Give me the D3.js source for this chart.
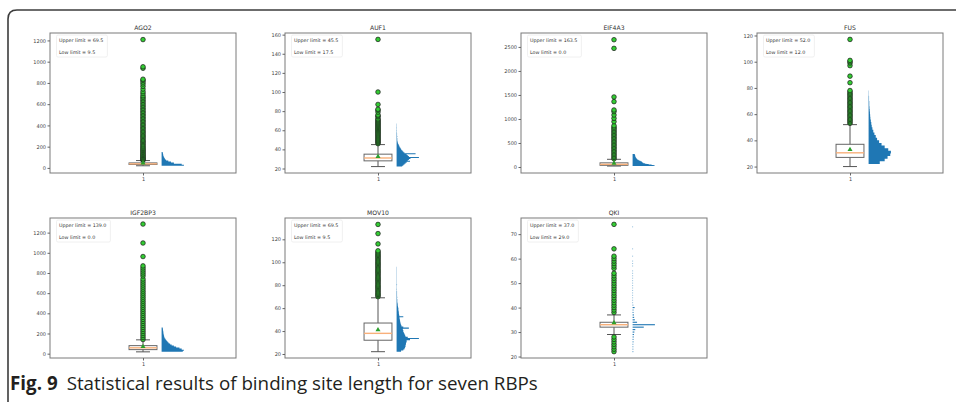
<!DOCTYPE html>
<html>
<head>
<meta charset="utf-8">
<script src="https://cdnjs.cloudflare.com/ajax/libs/d3/7.8.5/d3.min.js"></script>
<style>
body { margin: 0; background: #fff; }
svg text { font-family: "DejaVu Sans", sans-serif; }
</style>
</head>
<body>
<div id="chart-area"></div>
<script>
/*
*    binding site length per RBP: box plot + horizontal histogram
*/

var rbps = ["AGO2", "AUF1", "EIF4A3", "FUS", "IGF2BP3", "MOV10", "QKI"];
var upperLimits = ["69.5", "45.5", "163.5", "52.0", "139.0", "69.5", "37.0"];
var lowLimits = ["9.5", "17.5", "0.0", "12.0", "0.0", "9.5", "29.0"];

// axis ranges and ticks
var yDomains = [[-48, 1270], [15.3, 161.7], [-125, 2790], [15.1, 121.9], [-43, 1345], [16.5, 138.6], [19.4, 76.6]];
var yTicks = [
    [0, 200, 400, 600, 800, 1000, 1200],
    [20, 40, 60, 80, 100, 120, 140, 160],
    [0, 500, 1000, 1500, 2000, 2500],
    [20, 40, 60, 80, 100, 120],
    [0, 200, 400, 600, 800, 1000, 1200],
    [20, 40, 60, 80, 100, 120],
    [20, 30, 40, 50, 60, 70]
];
var xTickLabels = ["1"];

// box statistics
var q1s = [32, 28, 35, 27, 40, 32, 32];
var medians = [38, 31, 55, 30.5, 58, 38, 33];
var q3s = [47, 35, 86.4, 37, 79.6, 47, 34];
var means = [46, 32.6, 75, 33, 70, 41, 33.8];
var whiskerLows = [20, 22, 20, 20, 18, 22, 29];
var whiskerHighs = [69, 45, 160, 52, 137, 69, 37];

var outliers = [
    [72, 78, 85, 93, 101, 110, 118, 127, 136, 146, 155, 165, 174, 184, 195, 205, 216, 226, 238, 249, 260, 272, 284, 296, 308, 320, 332, 345, 357, 370, 383, 396, 409, 422, 436, 449, 463, 477, 491, 505, 519, 533, 548, 562, 577, 591, 606, 621, 636, 651, 666, 680, 700, 718, 742, 768, 790, 808, 825, 835, 938, 952, 1208],
    [46, 47, 48, 49, 50, 51, 52, 53, 54, 55, 56, 57, 58, 59, 60, 61, 62, 63, 64, 65, 66, 67, 68, 69, 70, 71, 72, 74, 75, 76, 79, 81, 82, 87, 100, 155],
    [170, 200, 230, 260, 290, 320, 350, 380, 410, 440, 470, 500, 530, 560, 590, 620, 650, 680, 710, 740, 770, 800, 830, 860, 944, 1014, 1083, 1153, 1187, 1361, 1458, 2470, 2650],
    [53, 54, 55, 56, 57, 58, 59, 60, 61, 62, 63, 64, 65, 66, 67, 68, 69, 70, 71, 72, 73, 74, 75, 76, 77, 78, 84, 89, 97, 99, 100, 101, 117],
    [140, 160, 180, 200, 220, 240, 260, 280, 300, 320, 340, 360, 380, 400, 420, 440, 460, 480, 500, 520, 540, 560, 580, 600, 620, 640, 660, 680, 700, 720, 740, 770, 790, 810, 830, 850, 870, 963, 1097, 1285],
    [70, 71, 72, 73, 74, 75, 76, 77, 78, 79, 80, 81, 82, 83, 84, 85, 86, 87, 88, 89, 90, 91, 92, 93, 94, 95, 96, 97, 98, 99, 100, 101, 102, 103, 104, 105, 106, 107, 108, 109, 110, 116, 125, 133],
    [22, 23, 24, 25, 26, 27, 28, 38, 39, 40, 41, 42, 43, 44, 45, 46, 47, 48, 49, 50, 51, 52, 53, 54, 56, 57, 58, 59, 60, 61, 64, 74]
];

// histograms: first bin edge, bin width, relative counts
var histStarts = [20, 22, 20, 22, 20, 22, 21.5];
var histBins = [10, 1, 10, 2, 10, 1, 1];
var histCounts = [
    [1.0, 0.9, 0.55, 0.42, 0.3, 0.2, 0.15, 0.12, 0.1, 0.08, 0.07, 0.06, 0.05],
    [0.25, 0.3, 0.35, 0.4, 0.45, 0.6, 0.5, 0.55, 0.62, 1.0, 0.55, 0.5, 0.45, 0.85, 0.35, 0.3, 0.26, 0.22, 0.2, 0.17, 0.14, 0.12, 0.1, 0.08, 0.06, 0.05, 0.04, 0.03, 0.03, 0.03, 0.02, 0.03, 0.02, 0.02, 0.02, 0.02, 0.01, 0.02, 0.01, 0.01, 0.02, 0.01, 0.01, 0.01, 0.01],
    [1.0, 0.95, 0.85, 0.72, 0.62, 0.55, 0.48, 0.45, 0.42, 0.4, 0.35, 0.3, 0.26, 0.22, 0.2, 0.18, 0.16, 0.15, 0.14, 0.13, 0.12, 0.12, 0.11, 0.1, 0.1],
    [0.5, 0.72, 0.85, 0.97, 1.0, 0.88, 0.72, 0.58, 0.47, 0.38, 0.32, 0.26, 0.21, 0.17, 0.14, 0.12, 0.1, 0.08, 0.07, 0.06, 0.05, 0.04, 0.03, 0.03, 0.02, 0.02, 0.01, 0.01],
    [0.95, 1.0, 0.9, 0.8, 0.65, 0.55, 0.45, 0.38, 0.32, 0.28, 0.24, 0.2, 0.17, 0.14, 0.12, 0.11, 0.1, 0.09, 0.08, 0.08, 0.07, 0.06, 0.06, 0.05],
    [0.2, 0.3, 0.35, 0.38, 0.4, 0.4, 0.42, 0.42, 0.45, 0.45, 0.6, 1.0, 0.5, 0.4, 0.38, 0.35, 0.33, 0.3, 0.3, 0.28, 0.55, 0.3, 0.22, 0.2, 0.18, 0.17, 0.16, 0.15, 0.14, 0.13, 0.3, 0.12, 0.11, 0.1, 0.1, 0.09, 0.08, 0.08, 0.07, 0.06, 0.05, 0.05, 0.04, 0.03, 0.03, 0.03, 0.02, 0.03, 0.02, 0.02, 0.02, 0.02, 0.02, 0.01, 0.02, 0.01, 0.01, 0.01, 0.02, 0.01, 0.01, 0.01, 0.01, 0.01, 0.01, 0.01, 0.01, 0.01, 0.01, 0.01, 0.01, 0.01, 0.01, 0.01],
    [0.03, 0.03, 0.03, 0.03, 0.04, 0.04, 0.05, 0.06, 0.08, 0.12, 0.5, 1.0, 0.2, 0.1, 0.07, 0.06, 0.04, 0.04, 0.09, 0.03, 0.02, 0.02, 0.02, 0.02, 0.02, 0.02, 0.02, 0.02, 0.02, 0.02, 0.02, 0.02, 0.02, 0.02, 0, 0.02, 0.02, 0.02, 0, 0.02, 0, 0, 0.02, 0, 0, 0, 0, 0, 0, 0, 0, 0.02]
];

var width = 956;
var height = 402;
var colX = [50, 285, 521, 757];
var rowY = [33, 218];
var pw = 186, ph = 140;
var barFill = [1, 1, 1, 1, 1, 1, 0.45];

var svg = d3.select("#chart-area")
    .append("svg")
        .attr("width", width)
        .attr("height", height);

// figure frame (top + left edge, rounded corner)
svg.append("path")
    .attr("d", "M8,402 L8,19 Q8,10 17,10 L956,10")
    .attr("fill", "none")
    .attr("stroke", "#3c3c3c")
    .attr("stroke-width", 1.6);

rbps.forEach(function(name, i) {
    var g = svg.append("g")
        .attr("transform", "translate(" + colX[i % 4] + "," + rowY[Math.floor(i / 4)] + ")");

    var x = d3.scaleLinear().domain([0.5, 1.5]).range([0, pw]);
    var y = d3.scaleLinear().domain(yDomains[i]).range([ph, 0]);
    var hx = d3.scaleLinear().domain([0, 1]).range([0, x(1.22) - x(1.1)]);

    g.append("text")
        .attr("x", pw / 2)
        .attr("y", -3)
        .attr("text-anchor", "middle")
        .attr("font-size", "6.1px")
        .style("fill", "#333")
        .text(name);

    // histogram
    var bin = histBins[i], start = histStarts[i], fill = barFill[i];
    var x0 = x(1.1);
    if (fill < 1) {
        g.selectAll(".hbar")
            .data(histCounts[i])
            .enter().append("rect")
                .attr("class", "hbar")
                .attr("x", x0)
                .attr("y", function(d, j) { return y(start + (j + 0.5) * bin + bin * fill / 2); })
                .attr("height", function(d, j) {
                    var mid = start + (j + 0.5) * bin;
                    return y(mid - bin * fill / 2) - y(mid + bin * fill / 2);
                })
                .attr("width", function(d) { return hx(d); })
                .attr("fill", "#1f77b4");
    } else {
        // one step outline so neighbouring bins have no seams
        var p = d3.path();
        p.moveTo(x0, y(start));
        histCounts[i].forEach(function(c, j) {
            p.lineTo(x0 + hx(c), y(start + j * bin));
            p.lineTo(x0 + hx(c), y(start + (j + 1) * bin));
        });
        p.lineTo(x0, y(start + histCounts[i].length * bin));
        p.closePath();
        g.append("path").attr("d", p.toString()).attr("fill", "#1f77b4");
    }

    // whiskers and caps
    var bw = 0.075;
    [[q3s[i], whiskerHighs[i]], [q1s[i], whiskerLows[i]]].forEach(function(w) {
        g.append("line")
            .attr("x1", x(1)).attr("x2", x(1))
            .attr("y1", y(w[0])).attr("y2", y(w[1]))
            .attr("stroke", "#555").attr("stroke-width", 1);
        g.append("line")
            .attr("x1", x(1 - bw / 2)).attr("x2", x(1 + bw / 2))
            .attr("y1", y(w[1])).attr("y2", y(w[1]))
            .attr("stroke", "#555").attr("stroke-width", 1);
    });

    g.append("rect")
        .attr("x", x(1 - bw))
        .attr("y", y(q3s[i]))
        .attr("width", x(1 + bw) - x(1 - bw))
        .attr("height", y(q1s[i]) - y(q3s[i]))
        .attr("fill", "none")
        .attr("stroke", "#666")
        .attr("stroke-width", 1);

    g.append("line")
        .attr("x1", x(1 - bw)).attr("x2", x(1 + bw))
        .attr("y1", y(medians[i])).attr("y2", y(medians[i]))
        .attr("stroke", "#f8b07a").attr("stroke-width", 1.4);

    // fliers
    g.selectAll(".flier")
        .data(outliers[i])
        .enter().append("circle")
            .attr("class", "flier")
            .attr("cx", x(1))
            .attr("cy", function(d) { return y(d); })
            .attr("r", 2.3)
            .attr("fill", "#33cc33")
            .attr("stroke", "#1a1a1a")
            .attr("stroke-width", 0.7);

    g.append("path")
        .attr("d", d3.symbol().type(d3.symbolTriangle).size(11)())
        .attr("transform", "translate(" + x(1) + "," + y(means[i]) + ")")
        .attr("fill", "#2ca02c");

    // axes frame
    g.append("rect")
        .attr("width", pw)
        .attr("height", ph)
        .attr("fill", "none")
        .attr("stroke", "#7a7a7a")
        .attr("stroke-width", 1);

    var leftAxis = d3.axisLeft(y).tickValues(yTicks[i]).tickFormat(d3.format("d"))
        .tickSize(2.5).tickPadding(1.5);
    var ax = g.append("g").call(leftAxis);
    ax.select(".domain").remove();
    ax.selectAll("line").attr("stroke", "#666");
    ax.selectAll("text").attr("font-size", "5px").attr("fill", "#444").style("font-family", "DejaVu Sans");

    var bottomAxis = d3.axisBottom(x).tickValues([1]).tickFormat(function(d, k) { return xTickLabels[k]; })
        .tickSize(2.5).tickPadding(1.5);
    var bx = g.append("g").attr("transform", "translate(0," + ph + ")").call(bottomAxis);
    bx.select(".domain").remove();
    bx.selectAll("line").attr("stroke", "#666");
    bx.selectAll("text").attr("font-size", "5px").attr("fill", "#444").style("font-family", "DejaVu Sans");

    // limits box
    var lg = g.append("g");
    var bg = lg.append("rect");
    lg.append("text")
        .attr("x", 9).attr("y", 9.3)
        .attr("font-size", "4.8px").style("fill", "#333")
        .text("Upper limit = " + upperLimits[i]);
    lg.append("text")
        .attr("x", 9).attr("y", 20.7)
        .attr("font-size", "4.8px").style("fill", "#333")
        .text("Low limit = " + lowLimits[i]);
    var bb = lg.node().getBBox();
    bg.attr("x", 6.5).attr("y", 2)
        .attr("width", bb.x + bb.width - 6.5 + 4)
        .attr("height", 22)
        .attr("rx", 1.5)
        .attr("fill", "#fff")
        .attr("stroke", "#ececec")
        .attr("stroke-width", 0.8);
});

var cap = svg.append("text")
    .attr("x", 10)
    .attr("y", 390)
    .attr("font-size", "18.8px")
    .style("font-family", "'Open Sans', 'Noto Sans', sans-serif")
    .style("fill", "#231f20");
cap.append("tspan").attr("font-weight", "bold").text("Fig. 9");
cap.append("tspan").attr("dx", 9).text("Statistical results of binding site length for seven RBPs");
</script>
</body>
</html>
